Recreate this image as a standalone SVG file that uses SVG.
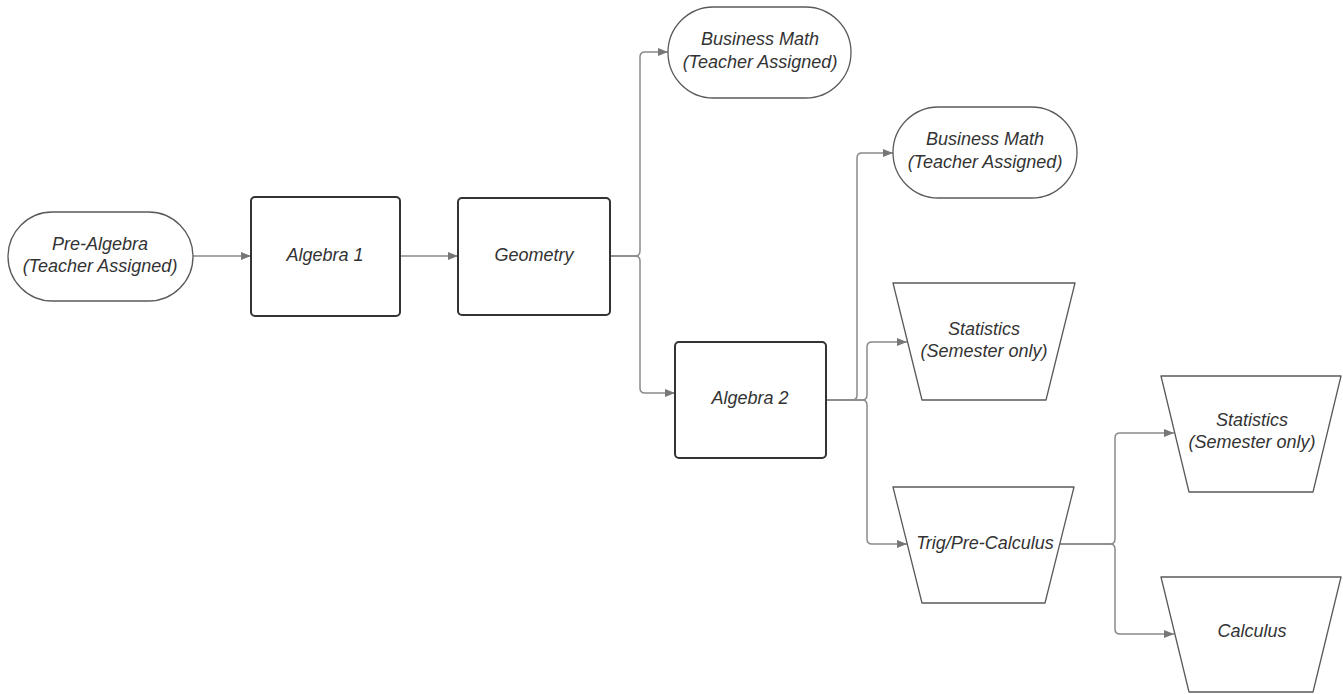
<svg xmlns="http://www.w3.org/2000/svg" width="1343" height="694" viewBox="0 0 1343 694">
<style>
.t{font-family:"Liberation Sans",Arial,sans-serif;font-style:italic;font-size:18px;fill:#333;text-anchor:middle}
.term{fill:#fff;stroke:#5a5a5a;stroke-width:1.3}
.box{fill:#fff;stroke:#333;stroke-width:2}
.trap{fill:#fff;stroke:#5a5a5a;stroke-width:1.3;stroke-linejoin:round}
.c{fill:none;stroke:#8a8a8a;stroke-width:1.5}
</style>
<defs>
<marker id="ah" viewBox="0 0 10 8" refX="10" refY="4" markerWidth="10" markerHeight="8" markerUnits="userSpaceOnUse" orient="auto">
<path d="M0,0 L10,4 L0,8 Z" fill="#777"/>
</marker>
</defs>
<g id="connectors">
<path class="c" marker-end="url(#ah)" d="M193,256 H251"/>
<path class="c" marker-end="url(#ah)" d="M400,256 H458"/>
<path class="c" marker-end="url(#ah)" d="M610,256 H635 Q640,256 640,251 V57 Q640,52 645,52 H668"/>
<path class="c" marker-end="url(#ah)" d="M610,256 H635 Q640,256 640,261 V388 Q640,393 645,393 H675"/>
<path class="c" marker-end="url(#ah)" d="M826,400 H852 Q857,400 857,395 V158 Q857,153 862,153 H893"/>
<path class="c" marker-end="url(#ah)" d="M826,400 H862 Q867,400 867,395 V347 Q867,342 872,342 H907"/>
<path class="c" marker-end="url(#ah)" d="M826,400 H862 Q867,400 867,405 V539 Q867,544 872,544 H907"/>
<path class="c" marker-end="url(#ah)" d="M1060,544 H1110 Q1115,544 1115,539 V438 Q1115,433 1120,433 H1174"/>
<path class="c" marker-end="url(#ah)" d="M1060,544 H1110 Q1115,544 1115,549 V629 Q1115,634 1120,634 H1174"/>
</g>
<g id="pre-algebra">
<rect class="term" x="8" y="212" width="185" height="89" rx="44.5"/>
<text class="t" x="100" y="250">Pre-Algebra</text>
<text class="t" x="100" y="272">(Teacher Assigned)</text>
</g>
<g id="algebra1">
<rect class="box" x="251" y="197" width="149" height="119" rx="4"/>
<text class="t" x="325" y="261">Algebra 1</text>
</g>
<g id="geometry">
<rect class="box" x="458" y="198" width="152" height="117" rx="4"/>
<text class="t" x="534" y="261">Geometry</text>
</g>
<g id="business-math-1">
<rect class="term" x="668" y="7" width="183" height="91" rx="45.5"/>
<text class="t" x="760" y="45">Business Math</text>
<text class="t" x="760" y="68">(Teacher Assigned)</text>
</g>
<g id="algebra2">
<rect class="box" x="675" y="342" width="151" height="116" rx="4"/>
<text class="t" x="750" y="404">Algebra 2</text>
</g>
<g id="business-math-2">
<rect class="term" x="893" y="107" width="184" height="91" rx="45.5"/>
<text class="t" x="985" y="145">Business Math</text>
<text class="t" x="985" y="168">(Teacher Assigned)</text>
</g>
<g id="statistics-1">
<path class="trap" d="M893,283 H1075 L1046,400 H922 Z"/>
<text class="t" x="984" y="335">Statistics</text>
<text class="t" x="984" y="357">(Semester only)</text>
</g>
<g id="trig">
<path class="trap" d="M893,487 H1074 L1045,603 H922 Z"/>
<text class="t" x="985" y="549">Trig/Pre-Calculus</text>
</g>
<g id="statistics-2">
<path class="trap" d="M1161,376 H1341 L1313,492 H1189 Z"/>
<text class="t" x="1252" y="426">Statistics</text>
<text class="t" x="1252" y="448">(Semester only)</text>
</g>
<g id="calculus">
<path class="trap" d="M1161,577 H1341 L1313,692 H1189 Z"/>
<text class="t" x="1252" y="637">Calculus</text>
</g>
</svg>
